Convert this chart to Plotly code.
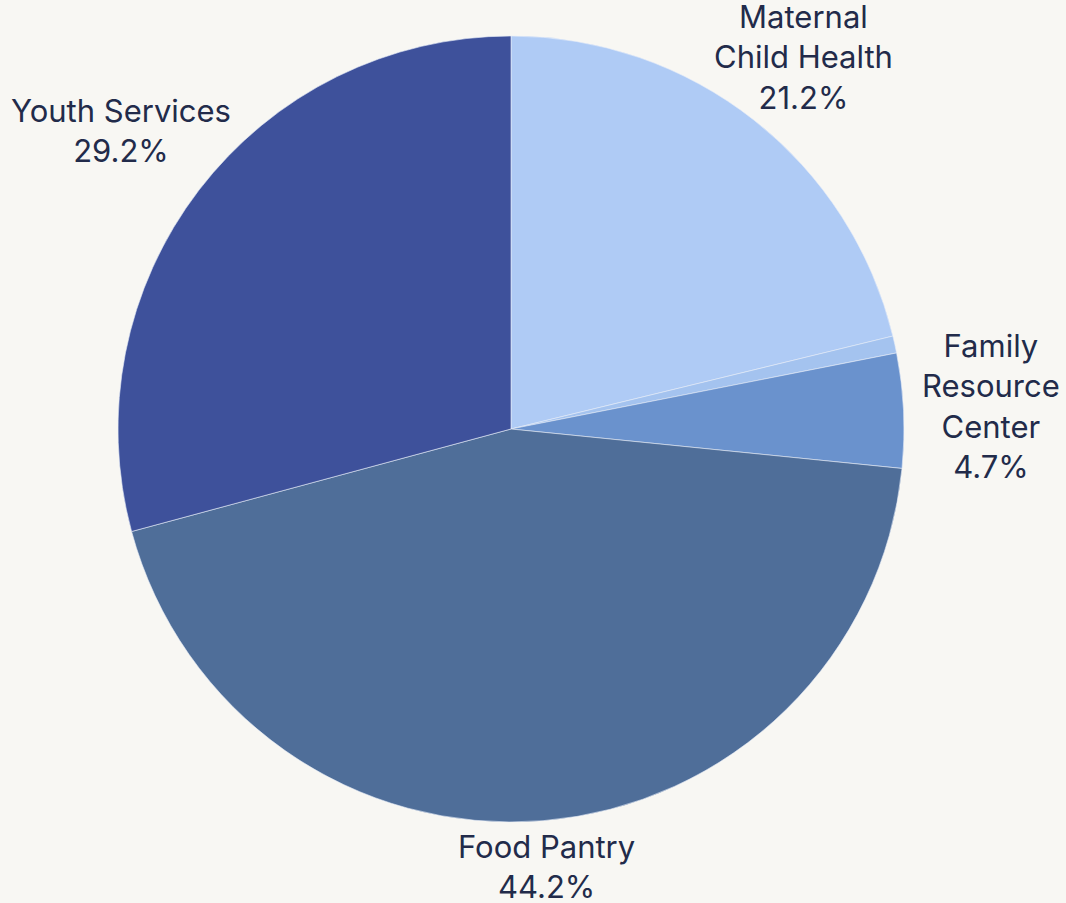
import math
import plotly.graph_objects as go

labels = ["Maternal Child Health", "Other", "Family Resource Center", "Food Pantry", "Youth Services"]
values = [21.2, 0.7, 4.7, 44.2, 29.2]
label_text = ["Maternal<br>Child Health", "", "Family<br>Resource<br>Center", "Food Pantry", "Youth Services"]
colors = ["#afcbf5", "#a4c3ef", "#6a92cd", "#4f6e99", "#3e519b"]
label_radius = [1.205, 0, 1.223, 1.117, 1.251]  # label distance from centre, in pie radii

fig = go.Figure(go.Pie(
    labels=labels,
    values=values,
    sort=False,
    direction="clockwise",
    rotation=0,
    marker=dict(colors=colors, line=dict(color="#e6edf8", width=0.6)),
    textinfo="none",
    showlegend=False,
    hoverinfo="label+percent",
    domain=dict(x=[0, 1], y=[0, 1]),
))

total = sum(values)
cum = 0.0
for v, txt, f in zip(values, label_text, label_radius):
    mid = (cum + v / 2) / total * 2 * math.pi
    cum += v
    if not txt:
        continue
    pct = f"{v / total * 100:.1f}%"
    fig.add_annotation(
        xref="paper", yref="paper",
        x=0.5 + 0.5 * f * math.sin(mid),
        y=0.5 + 0.5 * f * math.cos(mid),
        xanchor="center", yanchor="middle",
        text=f"{txt}<br>{pct}",
        showarrow=False,
        align="center",
        font=dict(family="Inter", size=31, color="#222b4a"),
    )

fig.update_layout(
    width=1066, height=903,
    margin=dict(l=118, r=162, t=36, b=81),
    paper_bgcolor="#f8f7f3",
    plot_bgcolor="#f8f7f3",
)

fig.write_html(
    "out.html",
    config={"displayModeBar": False},
    post_script="document.body.style.margin='0px';document.body.style.backgroundColor='#f8f7f3';document.body.style.overflow='hidden';",
)
